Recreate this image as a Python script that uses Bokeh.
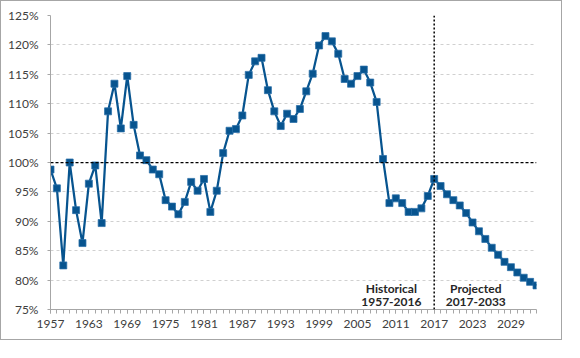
from bokeh.plotting import figure
from bokeh.models import FixedTicker, PrintfTickFormatter, Span, Label, ColumnDataSource
from bokeh.embed import file_html
from bokeh.resources import INLINE

years = list(range(1957, 2034))
ratio = [
    98.8, 95.6, 82.5, 100.0, 91.9, 86.3, 96.4, 99.5, 89.7, 108.7,
    113.4, 105.8, 114.7, 106.4, 101.2, 100.4, 98.8, 98.0, 93.6, 92.5,
    91.2, 93.3, 96.7, 95.2, 97.2, 91.6, 95.2, 101.6, 105.4, 105.7,
    108.0, 114.9, 117.2, 117.8, 112.3, 108.7, 106.2, 108.3, 107.4, 109.1,
    112.1, 115.1, 119.9, 121.5, 120.6, 118.5, 114.2, 113.4, 114.7, 115.8,
    113.6, 110.3, 100.6, 93.1, 93.9, 93.1, 91.6, 91.6, 92.2, 94.3,
    97.2, 96.0, 94.6, 93.6, 92.7, 91.4, 89.8, 88.3, 87.0, 85.5,
    84.3, 83.1, 82.2, 81.3, 80.4, 79.7, 79.1,
]
x_label_years = list(range(1957, 2034, 6))
y_ticks = [75, 80, 85, 90, 95, 100, 105, 110, 115, 120, 125]
grid_ticks = [80, 85, 90, 95, 105, 110, 115, 120, 125]
reference_level = 100
split_year = 2017
historical_lines = ["Historical", "1957-2016"]
projected_lines = ["Projected", "2017-2033"]

FONT = "Lato"
BLUE = "#07548f"

src = ColumnDataSource(dict(year=years, ratio=ratio))

p = figure(width=562, height=340, output_backend="svg", toolbar_location=None,
           x_range=(1957, 2033), y_range=(75, 125),
           min_border_left=49, min_border_right=27, min_border_top=14, min_border_bottom=32)
p.styles = {"border": "1px solid #a6a6a6"}
p.outline_line_color = None
p.background_fill_color = "white"
p.border_fill_color = "white"

# x axis
p.xaxis.ticker = FixedTicker(ticks=x_label_years, minor_ticks=years)
p.xaxis.axis_line_color = "#a6a6a6"
p.xaxis.major_tick_line_color = "#a6a6a6"
p.xaxis.minor_tick_line_color = "#a6a6a6"
p.xaxis.major_tick_out = 4
p.xaxis.major_tick_in = 0
p.xaxis.minor_tick_out = 4
p.xaxis.minor_tick_in = 0
p.xaxis.major_label_standoff = 6
p.xaxis.major_label_text_font = FONT
p.xaxis.major_label_text_font_size = "12px"
p.xaxis.major_label_text_color = "#404040"

# y axis
p.yaxis.ticker = FixedTicker(ticks=y_ticks)
p.yaxis.formatter = PrintfTickFormatter(format="%d%%")
p.yaxis.axis_line_color = "#a6a6a6"
p.yaxis.major_tick_line_color = "#a6a6a6"
p.yaxis.major_tick_out = 3
p.yaxis.major_tick_in = 0
p.yaxis.minor_tick_line_color = None
p.yaxis.major_label_standoff = 9
p.yaxis.major_label_text_font = FONT
p.yaxis.major_label_text_font_size = "12px"
p.yaxis.major_label_text_color = "#404040"

p.xgrid.grid_line_color = None
p.ygrid.ticker = FixedTicker(ticks=grid_ticks)
p.ygrid.grid_line_color = "#d0d0d0"
p.ygrid.grid_line_dash = "3 3"
p.ygrid.grid_line_width = 1

p.add_layout(Span(location=reference_level, dimension="width", line_color="black",
                  line_dash="3 2", line_width=1.25))
p.add_layout(Span(location=split_year, dimension="height", line_color="black",
                  line_dash="2 2", line_width=1.5))

p.line("year", "ratio", source=src, line_color=BLUE, line_width=2.25)
p.scatter("year", "ratio", source=src, marker="square", size=7,
          fill_color=BLUE, line_color="#2a6fa8", line_width=0.75)

for lines, xx in [(historical_lines, 2010.3), (projected_lines, 2023.5)]:
    for txt, yy in zip(lines, [78.6, 76.3]):
        p.add_layout(Label(x=xx, y=yy, text=txt, text_align="center", text_baseline="middle",
                           text_font=FONT, text_font_style="bold", text_font_size="12px",
                           text_color="#262626"))

open("out.html", "w").write(file_html(p, INLINE))
